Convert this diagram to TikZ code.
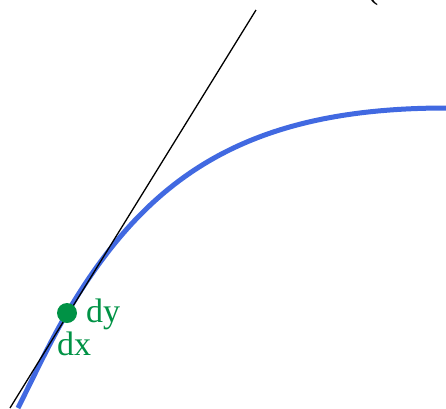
\documentclass[tikz,border=0pt]{standalone}
\usepackage{xcolor}
\usepackage{tikz}
\usepackage{fontspec}
\setmainfont{Liberation Serif}
\usetikzlibrary{positioning}
\definecolor{curveblue}{HTML}{4169E1}
\definecolor{markgreen}{RGB}{0,146,69}

\begin{document}
\begin{tikzpicture}[
  x=1pt,y=-1pt,
  curve/.style={draw=curveblue,line width=5pt},
  tangent/.style={draw=black,line width=1.3pt},
  pointdot/.style={circle,fill=markgreen,inner sep=0pt,minimum size=20pt},
  lbl/.style={text=markgreen,font=\fontsize{34}{40}\selectfont,inner sep=0pt}
]
\useasboundingbox (0,0) rectangle (446,408);
\clip (0,0) rectangle (446,408);
% curve and its tangent
\draw[curve] (18,408) .. controls (34,376) and (51,340) .. (67,313)
  .. controls (147,177) and (246,108) .. (446,108);
\coordinate (tlow) at (10,408);
\coordinate (thigh) at (256,10);
\draw[tangent] (tlow) -- (thigh);
% point and labels
\node[pointdot] (pt) at (67,313) {};
\node[lbl, anchor=base west] (dylabel) at (86,322) {dy};
\node[lbl, anchor=base west] (dxlabel) at (57,355) {dx};
\node[font=\fontsize{34}{40}\selectfont,inner sep=0pt,anchor=base west] (paren) at (367,-2) {(};
\end{tikzpicture}
\end{document}
